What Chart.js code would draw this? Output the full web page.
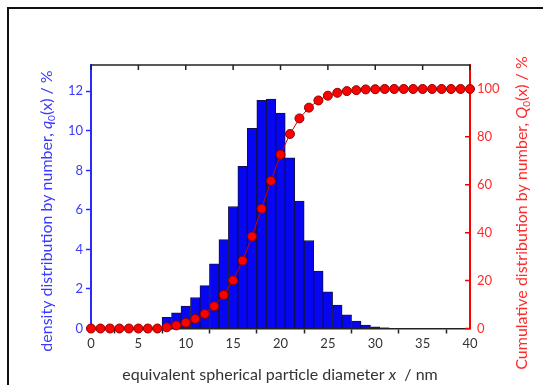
<!DOCTYPE html>
<html>
<head>
<meta charset="utf-8">
<title>Particle size distribution</title>
<script src="https://cdn.jsdelivr.net/npm/chart.js@4/dist/chart.umd.min.js"></script>
<style>
  body { margin: 0; background: #fff; }
  #wrap { position: relative; width: 543px; height: 385px; overflow: hidden; }
  #frame { position: absolute; left: 7px; top: 7px; width: 600px; height: 420px;
           border-left: 2px solid #111; border-top: 2px solid #111; }
  #psd { position: absolute; left: 0; top: 0; }
</style>
</head>
<body>
<div id="wrap">
  <div id="frame"></div>
  <canvas id="psd" width="543" height="385"></canvas>
</div>
<script>
// diameter classes in nm (bin centres, width 1 nm)
const diameters = [0, 1, 2, 3, 4, 5, 6, 7, 8, 9, 10, 11, 12, 13, 14, 15, 16, 17, 18, 19, 20,
  21, 22, 23, 24, 25, 26, 27, 28, 29, 30, 31, 32, 33, 34, 35, 36, 37, 38, 39, 40];

// q0(x) in %
const density = [0, 0, 0, 0, 0, 0, 0, 0, 0.57, 0.79, 1.13, 1.57, 2.17, 3.27, 4.50, 6.17, 8.20,
  10.13, 11.54, 11.61, 10.90, 8.63, 6.44, 4.45, 2.90, 1.85, 1.18, 0.69, 0.37, 0.17, 0.09,
  0.03, 0, 0, 0, 0, 0, 0, 0, 0, 0];

// Q0(x) in %
const cumulative = [0, 0, 0, 0, 0, 0, 0, 0, 0.5, 1.3, 2.4, 4.0, 6.1, 9.3, 14.0, 20.1, 28.3,
  38.4, 50.0, 61.6, 72.6, 81.2, 87.7, 92.2, 95.2, 97.2, 98.4, 99.1, 99.5, 99.8, 99.9,
  100, 100, 100, 100, 100, 100, 100, 100, 100, 100];

const xTickStep = 5;
const qTickStep = 2;
const QTickStep = 20;

const FONT = 'Lato';
const BLUE = '#0606f2';
const RED = '#ff0000';

// rotated / plain labels with italic and subscript pieces
function drawRich(ctx, parts, x, y, angle, color, size) {
  const fontFor = p => (p.it ? 'italic ' : '') + (p.sub ? Math.round(size * 0.65) : size) + 'px ' + FONT;
  ctx.save();
  ctx.translate(x, y);
  ctx.rotate(angle);
  ctx.fillStyle = color;
  ctx.textBaseline = 'middle';
  ctx.textAlign = 'left';
  let w = 0;
  parts.forEach(p => { ctx.font = fontFor(p); w += ctx.measureText(p.t).width; });
  let cx = -w / 2;
  parts.forEach(p => {
    ctx.font = fontFor(p);
    ctx.fillText(p.t, cx, p.sub ? 5 : 0);
    cx += ctx.measureText(p.t).width;
  });
  ctx.restore();
}

const axisTitles = {
  id: 'axisTitles',
  afterDraw(chart) {
    const ctx = chart.ctx;
    drawRich(ctx, [
      { t: 'density distribution by number, ' }, { t: 'q', it: true }, { t: '0', sub: true },
      { t: '(x) / %' }
    ], 47, 211, -Math.PI / 2, '#3a3aff', 16);
    drawRich(ctx, [
      { t: 'Cumulative distribution by number, ' }, { t: 'Q', it: true }, { t: '0', sub: true },
      { t: '(x) / %' }
    ], 522, 213, -Math.PI / 2, '#ff2a2a', 16);
    drawRich(ctx, [
      { t: 'equivalent spherical particle diameter ' }, { t: 'x', it: true }, { t: '  / nm' }
    ], 280, 375, 0, '#333', 16);
  }
};

// closed top edge with inward ticks, inward ticks on the right axis
const frameTicks = {
  id: 'frameTicks',
  afterDatasetsDraw(chart) {
    const { ctx, chartArea: a, scales } = chart;
    ctx.save();
    ctx.lineWidth = 1.5;
    ctx.strokeStyle = '#222';
    ctx.beginPath();
    ctx.moveTo(a.left, a.top);
    ctx.lineTo(a.right, a.top);
    scales.x.ticks.forEach(t => {
      const px = scales.x.getPixelForValue(t.value);
      ctx.moveTo(px, a.top);
      ctx.lineTo(px, a.top + 5);
    });
    ctx.stroke();
    ctx.strokeStyle = RED;
    ctx.beginPath();
    scales.yQ.ticks.forEach(t => {
      const py = scales.yQ.getPixelForValue(t.value);
      ctx.moveTo(a.right, py);
      ctx.lineTo(a.right - 5, py);
    });
    ctx.stroke();
    ctx.restore();
  }
};

new Chart(document.getElementById('psd'), {
  type: 'bar',
  data: {
    datasets: [
      {
        type: 'line',
        label: 'Q0',
        data: diameters.map((d, i) => ({ x: d, y: cumulative[i] })),
        yAxisID: 'yQ',
        borderColor: '#d00000',
        borderWidth: 1,
        pointRadius: 4.5,
        pointBackgroundColor: RED,
        pointBorderColor: '#8a0000',
        pointBorderWidth: 1,
        clip: false,
        order: 0,
      },
      {
        type: 'bar',
        label: 'q0',
        data: diameters.map((d, i) => ({ x: d, y: density[i] })),
        yAxisID: 'yq',
        backgroundColor: BLUE,
        borderColor: '#10104a',
        borderWidth: 1,
        borderSkipped: 'bottom',
        barPercentage: 1,
        categoryPercentage: 1,
        order: 1,
      },
    ],
  },
  options: {
    responsive: false,
    animation: false,
    devicePixelRatio: 1,
    layout: { padding: { top: 65, left: 0, right: 0, bottom: 0 } },
    plugins: { legend: { display: false }, tooltip: { enabled: false } },
    scales: {
      x: {
        type: 'linear',
        offset: false,
        min: 0,
        max: 40,
        ticks: { stepSize: xTickStep, color: '#333', font: { family: FONT, size: 13 }, padding: 3, maxRotation: 0 },
        grid: { drawOnChartArea: false, tickLength: 5, tickColor: '#222', tickWidth: 1.5 },
        border: { color: '#222', width: 1.5 },
        afterFit(s) { s.height = 56.5; },
      },
      yq: {
        position: 'left',
        min: 0,
        max: 13.33,
        ticks: { stepSize: qTickStep, includeBounds: false, color: '#3a3aff', font: { family: FONT, size: 13 }, padding: 3 },
        grid: { drawOnChartArea: false, tickLength: 5, tickColor: '#2a2aff', tickWidth: 1.5 },
        border: { color: '#2a2aff', width: 2 },
        afterFit(s) { s.width = 91; },
      },
      yQ: {
        position: 'right',
        min: 0,
        max: 110,
        ticks: { stepSize: QTickStep, includeBounds: false, color: '#ff2a2a', font: { family: FONT, size: 13 }, padding: 7 },
        grid: { drawOnChartArea: false, drawTicks: false },
        border: { color: RED, width: 2 },
        afterFit(s) { s.width = 73; },
      },
    },
  },
  plugins: [frameTicks, axisTitles],
});
</script>
</body>
</html>
